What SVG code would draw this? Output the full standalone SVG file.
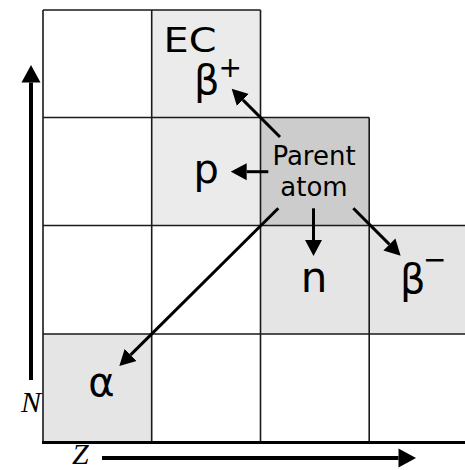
<svg xmlns="http://www.w3.org/2000/svg" width="465" height="470" viewBox="0 0 465 470">
<style>
.grid{stroke:#1a1a1a;stroke-width:1.6;fill:none}
.big{font-family:"DejaVu Sans",sans-serif;font-size:40px;fill:#000}
.sup{font-size:28px}
.small{font-family:"DejaVu Sans",sans-serif;font-size:26px;fill:#000;text-anchor:middle}
.axl{font-family:"Liberation Serif",serif;font-style:italic;font-size:30px;fill:#000}
.arr{stroke:#000;stroke-width:3;fill:none}
.ax{stroke:#000;stroke-width:4;fill:none}
</style>
<defs>
<marker id="head" markerUnits="userSpaceOnUse" orient="auto" markerWidth="16" markerHeight="18" viewBox="0 -8.5 15 17" refX="0" refY="0">
<path d="M0,-8 L15,0 L0,8 Z" fill="#000"/>
</marker>
<marker id="axhead" markerUnits="userSpaceOnUse" orient="auto" markerWidth="18" markerHeight="20" viewBox="0 -10 17.5 20" refX="0" refY="0">
<path d="M0,-9.5 L17.5,0 L0,9.5 Z" fill="#000"/>
</marker>
</defs>
<rect width="465" height="470" fill="#fff"/>
<g id="cells">
<g id="ec">
<rect x="151.7" y="10" width="108.8" height="107.5" fill="#ebebeb"/>
<text class="big" x="163.5" y="51.7" textLength="53" lengthAdjust="spacingAndGlyphs" style="font-size:34px">EC</text>
<text class="big" x="194" y="94">β<tspan class="sup" dx="-1" dy="-16.8">+</tspan></text>
</g>
<g id="p">
<rect x="151.7" y="117.5" width="108.8" height="108" fill="#ebebeb"/>
<text class="big" x="193.5" y="182.5">p</text>
</g>
<g id="parent">
<rect x="260.5" y="117.5" width="108.7" height="108" fill="#cccccc"/>
<text class="small" x="314" y="165">Parent</text>
<text class="small" x="314" y="196">atom</text>
</g>
<g id="n">
<rect x="260.5" y="225.5" width="108.7" height="108.5" fill="#e5e5e5"/>
<text class="big" x="314" y="291.5" text-anchor="middle" style="font-size:42px">n</text>
</g>
<g id="beta-minus">
<rect x="369.2" y="225.5" width="96" height="108.5" fill="#e5e5e5"/>
<text class="big" x="400" y="293.4">β<tspan class="sup" dx="-2.5" dy="-24.5">−</tspan></text>
</g>
<g id="alpha">
<rect x="43" y="334" width="108.7" height="108.5" fill="#e5e5e5"/>
<text class="big" x="101.5" y="396" text-anchor="middle">α</text>
</g>
</g>
<g id="grid">
<path class="grid" d="M43,10 H260.5 M43,117.5 H369.2 M43,225.5 H466 M43,334 H466 M43,10 V442.5 M151.7,10 V442.5 M260.5,10 V442.5 M369.2,117.5 V442.5"/>
<path d="M42,442.5 H466" stroke="#000" stroke-width="3"/>
</g>
<g id="connectors">
<line class="arr" x1="280" y1="137" x2="242.9" y2="99.9" marker-end="url(#head)"/>
<line class="arr" x1="268.3" y1="171.7" x2="246.7" y2="171.7" marker-end="url(#head)"/>
<line class="arr" x1="313.5" y1="208.3" x2="313.5" y2="240" marker-end="url(#head)"/>
<line class="arr" x1="353.3" y1="208.3" x2="389.4" y2="244.4" marker-end="url(#head)"/>
<line class="arr" x1="278.3" y1="208.3" x2="130.6" y2="354.9" marker-end="url(#head)"/>
</g>
<g id="axes">
<line class="ax" x1="31" y1="380" x2="31" y2="82.5" marker-end="url(#axhead)"/>
<line class="ax" x1="102" y1="458" x2="398.5" y2="458" marker-end="url(#axhead)"/>
<text class="axl" x="21" y="411.7">N</text>
<text class="axl" x="72" y="463.5">Z</text>
</g>
</svg>
